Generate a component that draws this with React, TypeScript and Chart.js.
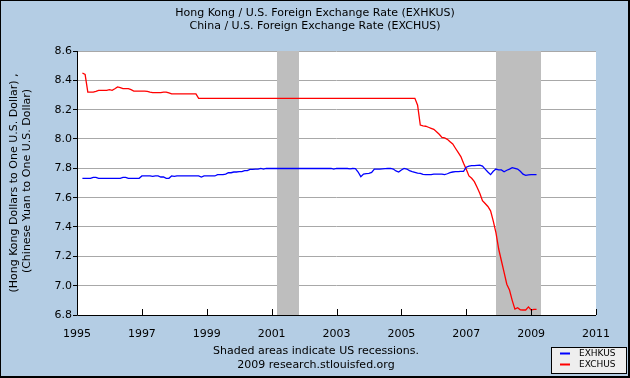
import React, { useEffect, useRef } from "react";
import { Chart, registerables } from "chart.js";

Chart.register(...registerables);

// Monthly observations, starting March 1995
const START_YEAR = 1995;
const START_MONTH = 3;

// Hong Kong / U.S. (EXHKUS)
const EXHKUS: number[] = [
  7.732, 7.732, 7.732, 7.732, 7.739, 7.739, 7.732, 7.732, 7.732, 7.732,
  7.732, 7.732, 7.732, 7.732, 7.732, 7.739, 7.739, 7.732, 7.732, 7.732, 7.732, 7.732,
  7.748, 7.748, 7.748, 7.748, 7.745, 7.748, 7.748, 7.741, 7.741, 7.732, 7.732, 7.748,
  7.745, 7.748, 7.748, 7.748, 7.748, 7.748, 7.748, 7.748, 7.748, 7.748, 7.741, 7.748,
  7.748, 7.748, 7.748, 7.748, 7.757, 7.757, 7.757, 7.761, 7.77, 7.77, 7.775, 7.775,
  7.777, 7.777, 7.784, 7.784, 7.793, 7.793, 7.795, 7.795, 7.8, 7.795, 7.799, 7.799,
  7.799, 7.799, 7.799, 7.799, 7.799, 7.799, 7.799, 7.799, 7.799, 7.799, 7.799, 7.799,
  7.799, 7.799, 7.799, 7.799, 7.799, 7.799, 7.799, 7.799, 7.799, 7.799, 7.799, 7.795,
  7.799, 7.799, 7.799, 7.799, 7.799, 7.797, 7.799, 7.798, 7.775, 7.743, 7.761, 7.764,
  7.766, 7.772, 7.795, 7.795, 7.795, 7.797, 7.798, 7.799, 7.8, 7.795, 7.782, 7.775,
  7.789, 7.8, 7.795, 7.784, 7.777, 7.773, 7.768, 7.766, 7.759, 7.757, 7.757, 7.757,
  7.761, 7.761, 7.761, 7.761, 7.757, 7.763, 7.77, 7.775, 7.777, 7.777, 7.779, 7.779,
  7.808, 7.815, 7.818, 7.818, 7.82, 7.822, 7.815, 7.795, 7.775, 7.757, 7.78, 7.795,
  7.79, 7.789, 7.777, 7.787, 7.795, 7.805, 7.8, 7.795, 7.78, 7.76, 7.752, 7.755,
  7.757, 7.757, 7.757,
];

// China / U.S. (EXCHUS)
const EXCHUS: number[] = [
  8.45, 8.44, 8.32, 8.32, 8.32, 8.325, 8.332, 8.332, 8.332, 8.332,
  8.337, 8.332, 8.343, 8.355, 8.35, 8.343, 8.343, 8.343, 8.336, 8.327, 8.327, 8.327,
  8.327, 8.327, 8.325, 8.32, 8.316, 8.316, 8.316, 8.316, 8.32, 8.32, 8.314, 8.307,
  8.307, 8.307, 8.307, 8.307, 8.307, 8.307, 8.307, 8.307, 8.307, 8.277, 8.277, 8.277,
  8.277, 8.277, 8.277, 8.277, 8.277, 8.277, 8.277, 8.277, 8.277, 8.277, 8.277, 8.277,
  8.277, 8.277, 8.277, 8.277, 8.277, 8.277, 8.277, 8.277, 8.277, 8.277, 8.277, 8.277,
  8.277, 8.277, 8.277, 8.277, 8.277, 8.277, 8.277, 8.277, 8.277, 8.277, 8.277, 8.277,
  8.277, 8.277, 8.277, 8.277, 8.277, 8.277, 8.277, 8.277, 8.277, 8.277, 8.277, 8.277,
  8.277, 8.277, 8.277, 8.277, 8.277, 8.277, 8.277, 8.277, 8.277, 8.277, 8.277, 8.277,
  8.277, 8.277, 8.277, 8.277, 8.277, 8.277, 8.277, 8.277, 8.277, 8.277, 8.277, 8.277,
  8.277, 8.277, 8.277, 8.277, 8.277, 8.277, 8.23, 8.095, 8.09, 8.087, 8.08, 8.073,
  8.066, 8.05, 8.032, 8.011, 8.007, 7.998, 7.982, 7.966, 7.937, 7.909, 7.88, 7.834,
  7.793, 7.748, 7.732, 7.709, 7.671, 7.63, 7.58, 7.56, 7.54, 7.51, 7.44, 7.36,
  7.25, 7.17, 7.09, 7.01, 6.97, 6.9, 6.84, 6.85, 6.835, 6.834, 6.834, 6.855,
  6.834, 6.838, 6.838,
];

const SERIES_LABELS = ["EXHKUS", "EXCHUS"];
const SERIES_COLORS = ["#0000FF", "#FF0000"];

const TITLE_LINES = [
  "Hong Kong / U.S. Foreign Exchange Rate (EXHKUS)",
  "China / U.S. Foreign Exchange Rate (EXCHUS)",
];
const Y_TITLE_LINES = [
  "(Hong Kong Dollars to One U.S. Dollar) ,",
  "(Chinese Yuan to One U.S. Dollar)",
];
const NOTE_LINES = [
  "Shaded areas indicate US recessions.",
  "2009 research.stlouisfed.org",
];

const X_MIN = 1995;
const X_MAX = 2011;
const X_STEP = 2;
const Y_MIN = 6.8;
const Y_MAX = 8.6;
const Y_STEP = 0.2;

// Recessions (decimal years)
const RECESSION_STARTS = [2001.167, 2007.917];
const RECESSION_ENDS = [2001.833, 2009.3];

const FONT = '"DejaVu Sans", Verdana, sans-serif';
const BG = "#B4CDE4";

function monthX(i: number): number {
  return START_YEAR + (START_MONTH - 1 + i) / 12;
}

const decorPlugin = {
  id: "fredDecor",
  beforeDraw(chart: any) {
    const { ctx, chartArea: a, width, height } = chart;
    ctx.save();
    ctx.fillStyle = BG;
    ctx.fillRect(0, 0, width, height);
    ctx.fillStyle = "#FFFFFF";
    ctx.fillRect(a.left, a.top, a.right - a.left, a.bottom - a.top);
    ctx.restore();
  },
  beforeDatasetsDraw(chart: any) {
    const { ctx, chartArea: a, scales } = chart;
    const xs = scales.x;
    ctx.save();
    ctx.fillStyle = "#BEBEBE";
    for (let k = 0; k < RECESSION_STARTS.length; k++) {
      const x0 = Math.round(xs.getPixelForValue(RECESSION_STARTS[k]));
      const x1 = Math.round(xs.getPixelForValue(RECESSION_ENDS[k]));
      ctx.fillRect(x0, a.top, x1 - x0, a.bottom - a.top);
    }
    ctx.restore();
  },
  afterDraw(chart: any) {
    const { ctx, chartArea: a, scales, width, height } = chart;
    const xs = scales.x;
    ctx.save();
    // axes
    ctx.strokeStyle = "#000";
    ctx.lineWidth = 1;
    ctx.beginPath();
    ctx.moveTo(a.left + 0.5, a.top);
    ctx.lineTo(a.left + 0.5, a.bottom + 0.5);
    ctx.lineTo(a.right, a.bottom + 0.5);
    ctx.stroke();
    // x tick marks (inside)
    ctx.beginPath();
    for (let yr = X_MIN; yr <= X_MAX; yr += X_STEP) {
      const px = Math.round(xs.getPixelForValue(yr)) + 0.5;
      ctx.moveTo(px, a.bottom);
      ctx.lineTo(px, a.bottom - 6);
    }
    ctx.stroke();

    ctx.fillStyle = "#000";
    ctx.textAlign = "center";
    ctx.textBaseline = "middle";
    ctx.font = `11px ${FONT}`;
    // titles
    ctx.fillText(TITLE_LINES[0], 315, 13);
    ctx.fillText(TITLE_LINES[1], 315, 26);
    // notes
    ctx.fillText(NOTE_LINES[0], 316, 351);
    ctx.fillText(NOTE_LINES[1], 316, 365);
    // y title
    const cy = (a.top + a.bottom) / 2;
    ctx.save();
    ctx.translate(14, cy);
    ctx.rotate(-Math.PI / 2);
    ctx.fillText(Y_TITLE_LINES[0], 0, 0);
    ctx.restore();
    ctx.save();
    ctx.translate(27, cy - 2);
    ctx.rotate(-Math.PI / 2);
    ctx.fillText(Y_TITLE_LINES[1], 0, 0);
    ctx.restore();

    // legend
    const lx = 551, ly = 347, lw = 76, lh = 27;
    ctx.fillStyle = "#EEEEEE";
    ctx.fillRect(lx, ly, lw, lh);
    ctx.strokeStyle = "#000";
    ctx.strokeRect(lx + 0.5, ly + 0.5, lw - 1, lh - 1);
    ctx.font = `9px ${FONT}`;
    ctx.textAlign = "left";
    chart.data.datasets.forEach((ds: any, k: number) => {
      const yy = ly + 6.5 + k * 11;
      ctx.strokeStyle = ds.borderColor;
      ctx.lineWidth = 2;
      ctx.beginPath();
      ctx.moveTo(560, yy);
      ctx.lineTo(570, yy);
      ctx.stroke();
      ctx.fillStyle = "#000";
      ctx.fillText(ds.label, 579, yy);
    });

    // outer border
    ctx.strokeStyle = "#000";
    ctx.lineWidth = 1;
    ctx.strokeRect(0.5, 0.5, width - 1, height - 1);
    ctx.beginPath();
    ctx.moveTo(width - 1.5, 0);
    ctx.lineTo(width - 1.5, height);
    ctx.moveTo(0, height - 1.5);
    ctx.lineTo(width, height - 1.5);
    ctx.stroke();
    ctx.restore();
  },
};

export default function App() {
  const canvasRef = useRef<HTMLCanvasElement | null>(null);

  useEffect(() => {
    const canvas = canvasRef.current;
    if (!canvas) return;
    const seriesData = [EXHKUS, EXCHUS];
    const chart = new Chart(canvas, {
      type: "line",
      data: {
        datasets: seriesData.map((vals, k) => ({
          label: SERIES_LABELS[k],
          data: vals.map((v, i) => ({ x: monthX(i), y: v })),
          borderColor: SERIES_COLORS[k],
          backgroundColor: SERIES_COLORS[k],
          borderWidth: 1.3,
          pointRadius: 0,
          tension: 0,
          fill: false,
        })),
      },
      options: {
        responsive: false,
        animation: false,
        devicePixelRatio: 1,
        layout: { padding: { left: 0, right: 34, top: 51, bottom: 0 } },
        plugins: {
          legend: { display: false },
          title: { display: false },
          tooltip: { enabled: false },
        },
        scales: {
          x: {
            type: "linear",
            min: X_MIN,
            max: X_MAX,
            afterFit(s: any) {
              s.height = 63;
            },
            grid: { display: false },
            border: { display: false },
            ticks: {
              stepSize: X_STEP,
              autoSkip: false,
              maxRotation: 0,
              padding: 5,
              color: "#000",
              font: { family: FONT, size: 11 },
              callback: (v: any) => String(Math.round(Number(v))),
            },
          },
          y: {
            min: Y_MIN,
            max: Y_MAX,
            afterFit(s: any) {
              s.width = 77;
            },
            grid: {
              color: (c: any) =>
                c.tick && Math.abs(c.tick.value - Y_MIN) < 1e-6 ? "rgba(0,0,0,0)" : "#A8A8A8",
              tickColor: "#000",
              tickLength: 4,
              lineWidth: 1,
            },
            border: { display: false },
            ticks: {
              stepSize: Y_STEP,
              padding: 1,
              color: "#000",
              font: { family: FONT, size: 11 },
              callback: (v: any) => Number(v).toFixed(1),
            },
          },
        },
      },
      plugins: [decorPlugin],
    } as any);
    return () => chart.destroy();
  }, []);

  return (
    <div style={{ position: "fixed", left: 0, top: 0, width: 630, height: 378 }}>
      <canvas ref={canvasRef} width={630} height={378} style={{ display: "block" }} />
    </div>
  );
}
